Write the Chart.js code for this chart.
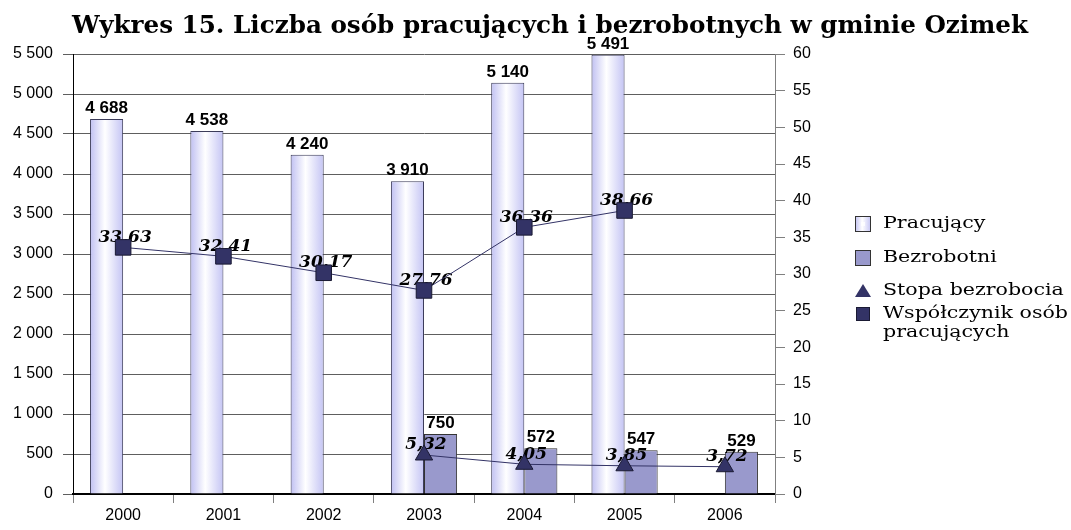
<!DOCTYPE html>
<html>
<head>
<meta charset="utf-8">
<script src="https://cdn.jsdelivr.net/npm/chart.js@4/dist/chart.umd.min.js"></script>
<style>
  html, body { margin: 0; padding: 0; background: #fff; }
</style>
</head>
<body>
<canvas id="chart" width="1071" height="530"></canvas>
<script>
const years = ['2000', '2001', '2002', '2003', '2004', '2005', '2006'];
const pracujacy = [4688, 4538, 4240, 3910, 5140, 5491, null];
const bezrobotni = [null, null, null, 750, 572, 547, 529];
const stopaBezrobocia = [null, null, null, 5.32, 4.05, 3.85, 3.72];
const wspolczynnik = [33.63, 32.41, 30.17, 27.76, 36.36, 38.66, null];

const titleText = 'Wykres 15. Liczba osób pracujących i bezrobotnych w gminie Ozimek';
const legendItems = ['Pracujący', 'Bezrobotni', 'Stopa bezrobocia', ['Współczynik osób', 'pracujących']];

const navy = '#333366';
const catPct = 0.66;
const fmtInt = v => String(v).replace(/\B(?=(\d{3})+(?!\d))/g, ' ');
const fmtDec = v => v.toFixed(2).replace('.', ',');

const barGradient = (ctx, x0, x1) => {
  const g = ctx.createLinearGradient(x0, 0, x1, 0);
  g.addColorStop(0, '#c0c0f2');
  g.addColorStop(0.45, '#ffffff');
  g.addColorStop(1, '#c4c4f4');
  return g;
};

// each "Pracujący" bar gets its own horizontal gradient, placed from the x scale
const pracujacyFill = c => {
  const chart = c.chart;
  const xs = chart.scales.x;
  if (!xs || c.dataIndex == null || !xs.width) return '#d8d8fa';
  const center = xs.getPixelForValue(c.dataIndex);
  const barW = (xs.width / years.length) * catPct / 2;
  if (!isFinite(center) || !isFinite(barW)) return '#d8d8fa';
  return barGradient(chart.ctx, center - barW, center);
};

// value labels, drawn after the bars but under the lines
const labelPlugin = {
  id: 'valueLabels',
  afterDatasetDraw(chart, args) {
    if (args.index !== 0) return;
    const ctx = chart.ctx;
    ctx.save();
    ctx.fillStyle = '#000';
    ctx.textAlign = 'center';
    ctx.textBaseline = 'bottom';
    ctx.font = 'bold 17px "Liberation Sans", Arial, sans-serif';
    [0, 1].forEach(di => {
      const ds = chart.data.datasets[di];
      chart.getDatasetMeta(di).data.forEach((el, i) => {
        if (ds.data[i] == null) return;
        ctx.fillText(fmtInt(ds.data[i]), el.x, el.y - 2);
      });
    });
    ctx.textBaseline = 'middle';
    ctx.font = 'italic bold 17px "DejaVu Serif", serif';
    [2, 3].forEach(di => {
      const ds = chart.data.datasets[di];
      chart.getDatasetMeta(di).data.forEach((el, i) => {
        if (ds.data[i] == null) return;
        ctx.fillText(fmtDec(ds.data[i]), el.x + 2, el.y - 10);
      });
    });
    ctx.restore();
  }
};

// title and legend
const decorPlugin = {
  id: 'decor',
  afterDraw(chart) {
    const ctx = chart.ctx;
    ctx.save();
    ctx.fillStyle = '#000';
    ctx.font = 'bold 20px "DejaVu Serif", serif';
    const w = ctx.measureText(titleText).width;
    const size = 20 * 956 / w;
    ctx.font = 'bold ' + size.toFixed(2) + 'px "DejaVu Serif", serif';
    ctx.textAlign = 'center';
    ctx.textBaseline = 'alphabetic';
    ctx.fillText(titleText, 550, 33);

    const bx = 855, tx = 883;
    const rows = [224, 258, 291, 314];
    ctx.textAlign = 'left';
    ctx.textBaseline = 'middle';
    ctx.strokeStyle = '#333';
    ctx.lineWidth = 1;
    // Pracujący
    let y = rows[0];
    ctx.fillStyle = barGradient(ctx, bx, bx + 16);
    ctx.fillRect(bx, y - 8, 16, 16);
    ctx.fillStyle = 'rgba(255,255,255,0.8)';
    ctx.fillRect(bx + 6, y - 2, 4, 4);
    ctx.strokeRect(bx + 0.5, y - 7.5, 15, 15);
    // Bezrobotni
    y = rows[1];
    ctx.fillStyle = '#9999cc';
    ctx.fillRect(bx, y - 8, 16, 16);
    ctx.strokeRect(bx + 0.5, y - 7.5, 15, 15);
    // Stopa bezrobocia
    y = rows[2];
    ctx.fillStyle = navy;
    ctx.beginPath();
    ctx.moveTo(bx + 8, y - 7);
    ctx.lineTo(bx + 16, y + 6);
    ctx.lineTo(bx, y + 6);
    ctx.closePath();
    ctx.fill();
    // Współczynnik
    y = rows[3];
    ctx.fillRect(bx + 1, y - 7, 14, 14);
    ctx.strokeStyle = '#1a1a33';
    ctx.strokeRect(bx + 1.5, y - 6.5, 13, 13);

    // legend text, stretched a little to the width of the original wide serif
    ctx.fillStyle = '#000';
    ctx.font = '17px "DejaVu Serif", serif';
    const sx = 185 / ctx.measureText(legendItems[3][0]).width;
    const put = (t, yy) => {
      ctx.save();
      ctx.translate(tx, yy);
      ctx.scale(sx, 1);
      ctx.fillText(t, 0, 0);
      ctx.restore();
    };
    put(legendItems[0], rows[0]);
    put(legendItems[1], rows[1]);
    put(legendItems[2], rows[2]);
    put(legendItems[3][0], rows[3]);
    put(legendItems[3][1], rows[3] + 19);
    ctx.restore();
  }
};

const tickFont = { family: '"Liberation Sans", Arial, sans-serif', size: 16 };

new Chart(document.getElementById('chart'), {
  data: {
    labels: years,
    datasets: [
      {
        type: 'bar',
        label: 'Pracujący',
        data: pracujacy,
        yAxisID: 'y',
        backgroundColor: pracujacyFill,
        borderColor: '#3c3c5a',
        borderWidth: 1,
        barPercentage: 1,
        categoryPercentage: catPct,
        order: 1
      },
      {
        type: 'bar',
        label: 'Bezrobotni',
        data: bezrobotni,
        yAxisID: 'y',
        backgroundColor: '#9999cc',
        borderColor: '#333333',
        borderWidth: 1,
        barPercentage: 1,
        categoryPercentage: catPct,
        order: 1
      },
      {
        type: 'line',
        label: 'Stopa bezrobocia',
        data: stopaBezrobocia,
        yAxisID: 'y1',
        borderColor: navy,
        borderWidth: 1,
        pointStyle: 'triangle',
        pointRadius: 10,
        pointBackgroundColor: navy,
        pointBorderColor: '#1a1a33',
        pointBorderWidth: 1,
        order: 0
      },
      {
        type: 'line',
        label: 'Współczynnik osób pracujących',
        data: wspolczynnik,
        yAxisID: 'y1',
        borderColor: navy,
        borderWidth: 1,
        pointStyle: 'rect',
        pointRadius: 11,
        pointBackgroundColor: navy,
        pointBorderColor: '#1a1a33',
        pointBorderWidth: 1,
        order: 0
      }
    ]
  },
  options: {
    responsive: false,
    animation: false,
    devicePixelRatio: 1,
    layout: { padding: { left: 0, right: 236, top: 54, bottom: 0 } },
    plugins: {
      legend: { display: false },
      title: { display: false },
      tooltip: { enabled: false }
    },
    scales: {
      x: {
        offset: true,
        grid: { drawOnChartArea: false, tickLength: 9, color: '#808080', offset: true },
        border: { color: '#000', width: 2 },
        ticks: { color: '#000', font: tickFont, padding: 3 },
        afterFit: s => { s.height = 36; }
      },
      y: {
        position: 'left',
        min: 0,
        max: 5500,
        ticks: { stepSize: 500, color: '#000', font: tickFont, padding: 10, callback: v => fmtInt(v) },
        grid: { color: '#5e5e5e', tickLength: 10 },
        border: { color: '#000', width: 1 },
        afterFit: s => { s.width = 73; }
      },
      y1: {
        position: 'right',
        min: 0,
        max: 60,
        ticks: { stepSize: 5, color: '#000', font: tickFont, padding: 8 },
        grid: { drawOnChartArea: false, color: '#808080', tickLength: 10 },
        border: { color: '#808080', width: 1 },
        afterFit: s => { s.width = 60; }
      }
    }
  },
  plugins: [labelPlugin, decorPlugin]
});
</script>
</body>
</html>
